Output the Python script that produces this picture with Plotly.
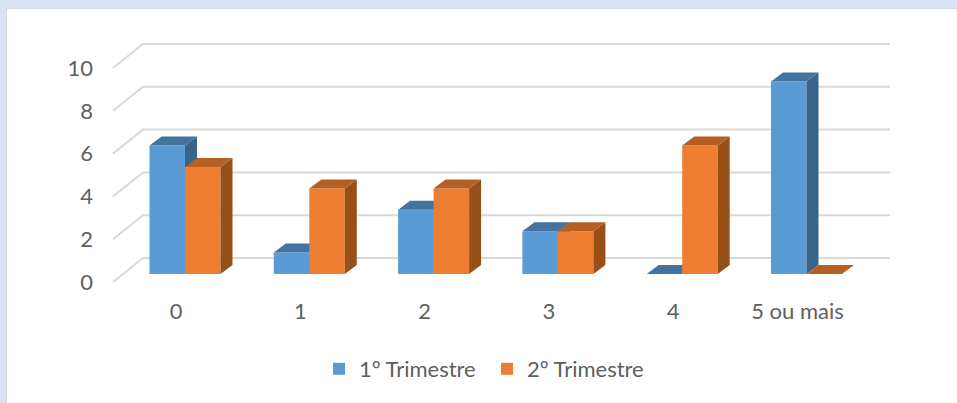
import plotly.graph_objects as go

categories = ["0", "1", "2", "3", "4", "5 ou mais"]
series_names = ["1º Trimestre", "2º Trimestre"]
values_t1 = [6, 1, 3, 2, 0, 9]
values_t2 = [5, 4, 4, 2, 6, 0]
y_ticks = [0, 2, 4, 6, 8, 10]

W, H = 957, 403
PX_CAT = 124.3
PX_UNIT = 21.4
X0_PX = 176.0   # pixel of category 0
Y0_PX = 274.0   # pixel of value 0
L, R, T, B = 100, 900, 30, 295

x_range = [(L - X0_PX) / PX_CAT, (R - X0_PX) / PX_CAT]
y_range = [(Y0_PX - B) / PX_UNIT, (Y0_PX - T) / PX_UNIT]

bar_w = 35.5 / PX_CAT
depth_x = 12 / PX_CAT
depth_y = 9 / PX_UNIT
offsets = [-26.5 / PX_CAT, 9 / PX_CAT]
colors = ["#5B9BD5", "#ED7D31"]
top_colors = ["#44739F", "#B65F23"]
side_colors = ["#38638B", "#985019"]
TEXT = "#606060"
FONT = "Lato"
FONT_SIZE = 22

fig = go.Figure()
xs = list(range(len(categories)))

for k, vals in enumerate([values_t1, values_t2]):
    suffix = "" if k == 0 else "2"
    xa, ya = f"x{suffix}", f"y{suffix}"
    fig.add_trace(go.Bar(
        x=xs, y=vals, name=series_names[k], width=bar_w, offset=offsets[k],
        marker=dict(color=colors[k], line=dict(width=0)),
        xaxis=xa, yaxis=ya, hoverinfo="name+y",
    ))
    top_x, top_y, side_x, side_y = [], [], [], []
    for i, v in zip(xs, vals):
        a = i + offsets[k]
        b = a + bar_w
        top_x += [a, b, b + depth_x, a + depth_x, a, None]
        top_y += [v, v, v + depth_y, v + depth_y, v, None]
        side_x += [b, b + depth_x, b + depth_x, b, b, None]
        side_y += [0, depth_y, v + depth_y, v, 0, None]
    for px, py, c in [(side_x, side_y, side_colors[k]), (top_x, top_y, top_colors[k])]:
        fig.add_trace(go.Scatter(
            x=px, y=py, mode="lines", fill="toself", fillcolor=c,
            line=dict(width=0, color=c), showlegend=False, hoverinfo="skip",
            xaxis=xa, yaxis=ya,
        ))

# walls: back grid line plus the slanted floor-to-wall segment
back_dy = 16 / PX_UNIT
front_dy = -8 / PX_UNIT
back_left = x_range[0] + 43 / PX_CAT
front_left = x_range[0] + 13 / PX_CAT
back_right = (890 - X0_PX) / PX_CAT
shapes = [dict(type="rect", xref="paper", yref="paper",
               x0=6.5 / W, x1=1.01, y0=-0.01, y1=1 - 8.5 / H,
               fillcolor="white", line=dict(color="#D9D9D9", width=1), layer="below")]
for v in y_ticks:
    shapes.append(dict(type="path", xref="x", yref="y", layer="below",
                       path=f"M{front_left},{v + front_dy} L{back_left},{v + back_dy} L{back_right},{v + back_dy}",
                       line=dict(color="#D9D9D9", width=2)))

axis_common = dict(range=x_range, domain=[L / W, R / W], showgrid=False, zeroline=False, showline=False)
yaxis_common = dict(range=y_range, domain=[1 - B / H, 1 - T / H], showgrid=False, zeroline=False, showline=False)

fig.update_layout(
    width=W, height=H,
    margin=dict(l=0, r=0, t=0, b=0),
    paper_bgcolor="#D9E2F3",
    plot_bgcolor="rgba(0,0,0,0)",
    font=dict(family=FONT, size=FONT_SIZE, color=TEXT),
    barmode="overlay",
    shapes=shapes,
    xaxis=dict(**axis_common, tickmode="array", tickvals=xs, ticktext=categories,
               ticks="", ticklabelstandoff=1),
    yaxis=dict(**yaxis_common, tickmode="array", tickvals=[v - 8 / PX_UNIT for v in y_ticks],
               ticktext=[str(v) for v in y_ticks], ticks="", ticklabelstandoff=6),
    xaxis2=dict(**axis_common, overlaying="x", anchor="y2", showticklabels=False),
    yaxis2=dict(**yaxis_common, overlaying="y", anchor="x2", showticklabels=False),
    legend=dict(orientation="h", x=319 / W, y=1 - 369 / H, xanchor="left", yanchor="middle",
                entrywidth=123, entrywidthmode="pixels", bgcolor="rgba(0,0,0,0)",
                font=dict(family=FONT, size=FONT_SIZE, color=TEXT), traceorder="normal"),
    showlegend=True,
)

fig.write_html("out.html", config=dict(displayModeBar=False),
               post_script="document.body.style.margin='0';document.documentElement.style.overflow='hidden';")
